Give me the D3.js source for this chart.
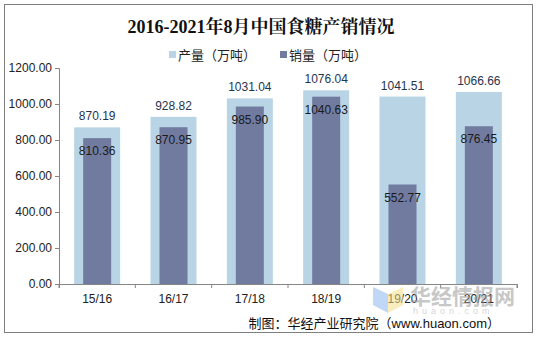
<!DOCTYPE html>
<html><head><meta charset="utf-8">
<script src="https://cdn.jsdelivr.net/npm/d3@7"></script>
<style>body{margin:0;background:#fff}svg{display:block}</style>
</head><body><svg id="c" width="538" height="339"></svg>
<script>
const seasons = ["15/16","16/17","17/18","18/19","19/20","20/21"];
const production = [870.19, 928.82, 1031.04, 1076.04, 1041.51, 1066.66];
const sales = [810.36, 870.95, 985.90, 1040.63, 552.77, 876.45];
const yTicks = [0, 200, 400, 600, 800, 1000, 1200];
const seriesNames = ["产量（万吨）", "销量（万吨）"];
const colors = ["#b8d4e5", "#717b9f"];

const svg = d3.select("#c");
const font = "Arial, 'Liberation Sans', 'Noto Sans CJK SC', sans-serif";

svg.append("rect").attr("x",4.5).attr("y",4.5).attr("width",528).attr("height",328)
  .attr("fill","#fff").attr("stroke","#7f7f7f").attr("stroke-width",1);

svg.append("text").attr("x",261).attr("y",33).attr("text-anchor","middle")
  .attr("font-family","'Liberation Serif','Noto Serif CJK SC','Noto Sans CJK SC',serif")
  .attr("font-weight","bold").attr("font-size",18).attr("fill","#111")
  .text("2016-2021年8月中国食糖产销情况");

const x = d3.scaleBand().domain(seasons).range([59, 517]);
const y = d3.scaleLinear().domain([0, 1200]).range([284, 68]);

// legend
const legendX = [169, 280];
seriesNames.forEach((n, i) => {
  svg.append("rect").attr("x", legendX[i]).attr("y", 51).attr("width", 7).attr("height", 7).attr("fill", colors[i]);
  svg.append("text").attr("x", legendX[i] + 9).attr("y", 59.5).attr("font-family", font)
    .attr("font-size", 13).attr("fill", "#222").text(n);
});

// y axis
const yAxis = svg.append("g").attr("transform","translate(59,0)")
  .call(d3.axisLeft(y).tickValues(yTicks).tickFormat(d3.format(".2f")).tickSize(4).tickPadding(3));
yAxis.selectAll("text").attr("font-family",font).attr("font-size",12).attr("fill","#222");
yAxis.selectAll("line,path").attr("stroke","#868686");

// bars
const cx = d => x(d) + x.bandwidth()/2;
const g = svg.append("g");
g.selectAll("rect.p").data(seasons).join("rect").attr("class","p")
  .attr("x", d => cx(d) - 23).attr("width", 46)
  .attr("y", (d,i) => y(production[i])).attr("height", (d,i) => y(0) - y(production[i]))
  .attr("fill", colors[0]);
g.selectAll("rect.s").data(seasons).join("rect").attr("class","s")
  .attr("x", d => cx(d) - 14).attr("width", 28)
  .attr("y", (d,i) => y(sales[i])).attr("height", (d,i) => y(0) - y(sales[i]))
  .attr("fill", colors[1]);

// x axis
const xAxis = svg.append("g").attr("transform","translate(0,284)")
  .call(d3.axisBottom(x).tickSize(4).tickSizeOuter(4).tickPadding(6));
xAxis.selectAll(".tick line").attr("transform", `translate(${-x.bandwidth()/2},0)`);
xAxis.append("line").attr("x1",517).attr("x2",517).attr("y1",0).attr("y2",4).attr("stroke","#868686");
xAxis.selectAll("text").attr("font-family",font).attr("font-size",12).attr("fill","#222");
xAxis.selectAll("line,path").attr("stroke","#868686");

// value labels
g.selectAll("text.pl").data(seasons).join("text").attr("class","pl")
  .attr("x", cx).attr("y", (d,i) => y(production[i]) - 7).attr("text-anchor","middle")
  .attr("font-family",font).attr("font-size",12).attr("fill","#1f3550")
  .text((d,i) => production[i].toFixed(2));
g.selectAll("text.sl").data(seasons).join("text").attr("class","sl")
  .attr("x", cx).attr("y", (d,i) => y(sales[i]) + 17).attr("text-anchor","middle")
  .attr("font-family",font).attr("font-size",12).attr("fill","#1a1a1a")
  .text((d,i) => sales[i].toFixed(2));

// site mark in the lower right corner
const wm = svg.append("g").attr("opacity",0.55);
wm.append("path").attr("d","M373,287 L388,294 L388,313 L373,305 Z").attr("fill","#8fb8f0");
wm.append("path").attr("d","M403,287 L388,294 L388,313 L403,305 Z").attr("fill","#f5e08a");
wm.append("text").attr("x",410).attr("y",304).attr("font-family","'Noto Sans CJK SC',sans-serif")
  .attr("font-weight","bold").attr("font-size",21).attr("fill","#9a9a9a").text("华经情报网");
wm.append("text").attr("x",413).attr("y",314).attr("font-family",font)
  .attr("font-size",9).attr("letter-spacing",4).attr("fill","#b5b5b5").text("huaon.com");

// source
svg.append("text").attr("x",500).attr("y",328).attr("text-anchor","end")
  .attr("font-family",font).attr("font-size",13).attr("fill","#111")
  .text("制图：华经产业研究院（www.huaon.com）");
</script></body></html>
